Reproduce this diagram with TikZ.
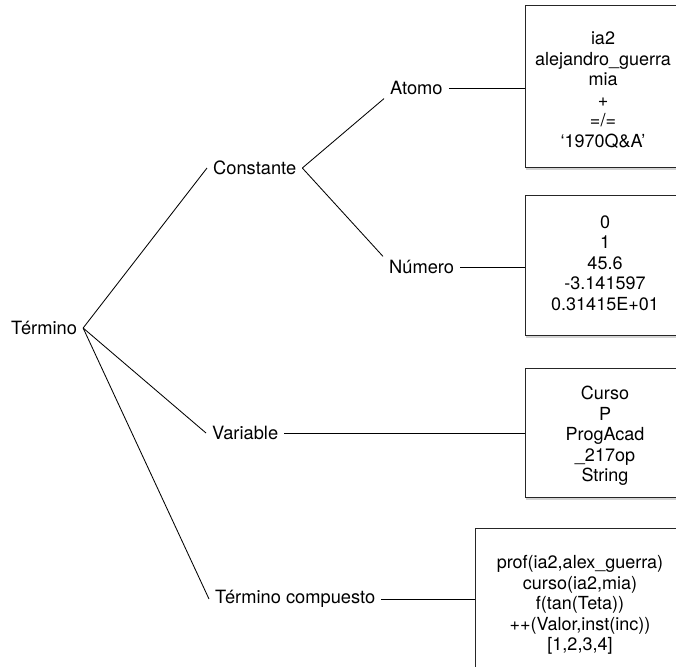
\documentclass[tikz,border=0pt]{standalone}
\usepackage{fontspec}
\setmainfont{TeX Gyre Heros}
\usetikzlibrary{shadows}
\tikzset{
    etiqueta/.style={inner xsep=4.2pt, inner ysep=2.5pt, font=\fontsize{13}{13.5}\selectfont},
    ejemplos/.style={align=center, inner sep=0pt, font=\fontsize{12.8}{14.6}\selectfont},
    caja/.style={draw=black!85, line width=0.7pt, fill=white, inner sep=0pt,
        drop shadow={shadow xshift=0.6pt, shadow yshift=-2pt, opacity=0.35}},
    rama/.style={line width=0.6pt}}

\begin{document}
\begin{tikzpicture}[x=0.025cm, y=-0.025cm]
    \useasboundingbox (0,0) rectangle (676,666);
    \clip (0,0) rectangle (676,666);
    % cajas de ejemplos
    \node[caja, anchor=north west, minimum width=4.125cm, minimum height=4.05cm] (caja1) at (525,5) {};
    \node[caja, anchor=north west, minimum width=4.125cm, minimum height=3.5cm] (caja2) at (525,195) {};
    \node[caja, anchor=north west, minimum width=4.125cm, minimum height=3.225cm] (caja3) at (525,368) {};
    \node[caja, anchor=north west, minimum width=5.375cm, minimum height=4.25cm] (caja4) at (475,528) {};
    \node[ejemplos] (ej1) at (603,90) {ia2\\alejandro\_guerra\\mia\\+\\=/=\\‘1970Q\&A’};
    \node[ejemplos] (ej2) at (605,263) {0\\1\\45.6\\-3.141597\\0.31415E+01};
    \node[ejemplos] (ej3) at (605,436) {Curso\\P\\ProgAcad\\\_217op\\String};
    \node[ejemplos] (ej4) at (580,605) {prof(ia2,alex\_guerra)\\curso(ia2,mia)\\f(tan(Teta))\\++(Valor,inst(inc))\\\relax[1,2,3,4]};
    % arbol
    \node[etiqueta, anchor=west] (termino) at (5,328) {Término};
    \node[etiqueta, anchor=west] (constante) at (207,168) {Constante};
    \node[etiqueta, anchor=west] (atomo) at (384,88) {Atomo};
    \node[etiqueta, anchor=west] (numero) at (383,267) {Número};
    \node[etiqueta, anchor=west] (variable) at (206,433) {Variable};
    \node[etiqueta, anchor=west] (compuesto) at (209,599) {Término compuesto};
    \draw[rama] (termino.east) -- (constante.west);
    \draw[rama] (termino.east) -- (variable.west);
    \draw[rama] (termino.east) -- (compuesto.west);
    \draw[rama] (constante.east) -- (atomo.south west);
    \draw[rama] (constante.east) -- (numero.north west);
    \draw[rama] (atomo.east) -- (atomo.east -| caja1.west);
    \draw[rama] (numero.east) -- (numero.east -| caja2.west);
    \draw[rama] (variable.east) -- (variable.east -| caja3.west);
    \draw[rama] (compuesto.east) -- (compuesto.east -| caja4.west);
\end{tikzpicture}
\end{document}
